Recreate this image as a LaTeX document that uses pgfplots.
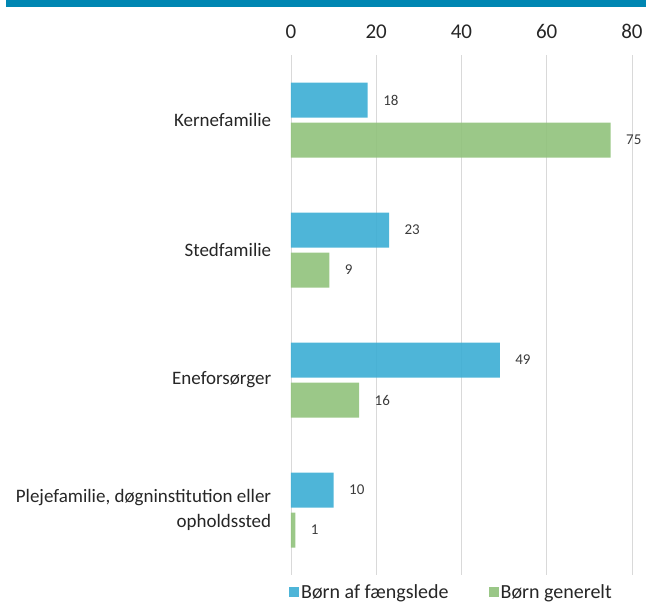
\documentclass[border=0pt]{standalone}
\usepackage{pgfplots}
\pgfplotsset{compat=1.18}
\usepackage{fontspec}
\setmainfont{Carlito}

\definecolor{topbar}{RGB}{0,134,178}
\definecolor{bblue}{RGB}{59,173,212}
\definecolor{bgreen}{RGB}{144,194,123}
\definecolor{gridgray}{RGB}{217,217,217}

\begin{document}
\begin{tikzpicture}
\useasboundingbox (-291pt,-29pt) rectangle (355pt,575pt);
\clip (-291pt,-29pt) rectangle (355pt,575pt);
\fill[topbar] (-285pt,568pt) rectangle (355pt,575pt);
\begin{axis}[
  at={(0pt,0pt)}, anchor=south west,
  width=341pt, height=520pt, scale only axis,
  xbar, bar width=35pt,
  xmin=0, xmax=80, ymin=-0.5, ymax=3.5, y dir=reverse,
  axis line style={draw=none},
  tick style={draw=none},
  /pgf/number format/assume math mode=true,
  xtick={0,20,40,60,80},
  xticklabel pos=right,
  xmajorgrids, grid style={gridgray, line width=0.9pt},
  xticklabel style={font=\fontsize{21}{24}\selectfont, yshift=13pt, text=black!85},
  ytick={0,1,2,3},
  yticklabels={Kernefamilie, Stedfamilie, Eneforsørger,
    {Plejefamilie, døgninstitution eller\\opholdssted}},
  yticklabel style={align=right, font=\fontsize{19}{25}\selectfont, xshift=-12pt, text=black!85},
  point meta=x,
  nodes near coords,
  nodes near coords style={anchor=west, xshift=12pt, font=\fontsize{15}{17}\selectfont, text=black!85},
  legend columns=2,
  legend style={at={(0,0)}, anchor=north west, draw=none, xshift=-5pt, yshift=-5pt,
    font=\fontsize{20}{22}\selectfont, text=black!85,
    /tikz/every even column/.append style={column sep=38pt}},
  legend image code/.code={\fill[#1] (0pt,-5pt) rectangle (10pt,5pt);},
]
\addplot[fill=bblue, draw=none, fill opacity=0.9, bar shift=20pt]
  coordinates {(18,0) (23,1) (49,2) (10,3)};
\addlegendentry{Børn af fængslede}
\addplot[fill=bgreen, draw=none, fill opacity=0.9, bar shift=-20pt]
  coordinates {(75,0) (9,1) (16,2) (1,3)};
\addlegendentry{Børn generelt}
\end{axis}
\end{tikzpicture}
\end{document}
